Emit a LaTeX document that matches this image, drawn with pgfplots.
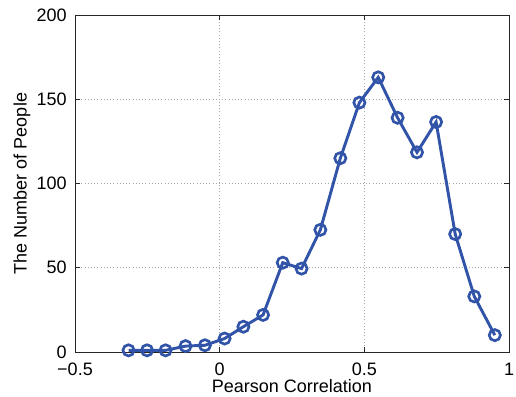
\documentclass[border=0pt]{standalone}
\usepackage{fontspec}
\setmainfont{Liberation Sans}
\usepackage{pgfplots}
\pgfplotsset{compat=1.18}
\definecolor{lineblue}{RGB}{50,84,168}
\begin{document}
\fontsize{13.5pt}{16pt}\selectfont
\begin{tikzpicture}
\begin{axis}[
  scale only axis,
  width=325.5pt, height=252.75pt,
  xmin=-0.5, xmax=1, ymin=0, ymax=200,
  xtick={-0.5,0,0.5,1},
  xticklabels={−0.5,0,0.5,1},
  ytick={0,50,100,150,200},
  /pgf/number format/assume math mode=true,
  tick label style={font=\fontsize{13.5pt}{16pt}\selectfont},
  label style={font=\fontsize{13.5pt}{16pt}\selectfont},
  xlabel={Pearson Correlation},
  ylabel={The Number of People},
  xlabel style={at={(axis description cs:0.5,-0.1),}, anchor=center},
  ylabel style={at={(axis description cs:-0.1221,0.5)}, anchor=center},
  grid=major,
  major grid style={gray!70, dotted, line width=0.6pt},
  tick align=inside,
  major tick length=4pt,
  xtick pos=both, ytick pos=both,
  xticklabel pos=left, yticklabel pos=left,
  axis line style={black!85, line width=0.7pt},
  every tick/.style={black!85, line width=0.7pt},
  xticklabel style={yshift=-3.75pt},
  yticklabel style={xshift=-1.5pt},
]
\addplot[color=lineblue, line width=2.2pt, mark=o, mark size=4.2pt,
  mark options={line width=2pt}] coordinates {
(-0.315,1) (-0.251,1) (-0.187,1) (-0.118,3.5) (-0.051,4) (0.017,8)
(0.082,15) (0.150,22) (0.218,53) (0.283,49.5) (0.348,72.5) (0.417,115)
(0.483,148) (0.548,163) (0.615,139) (0.682,118.5) (0.748,136.5)
(0.814,70) (0.880,33) (0.951,10)
};
\end{axis}
\pgfresetboundingbox
\useasboundingbox ([xshift=-56.25pt,yshift=-33pt]current axis.south west) rectangle ([xshift=5.25pt,yshift=11.25pt]current axis.north east);
\end{tikzpicture}
\end{document}
